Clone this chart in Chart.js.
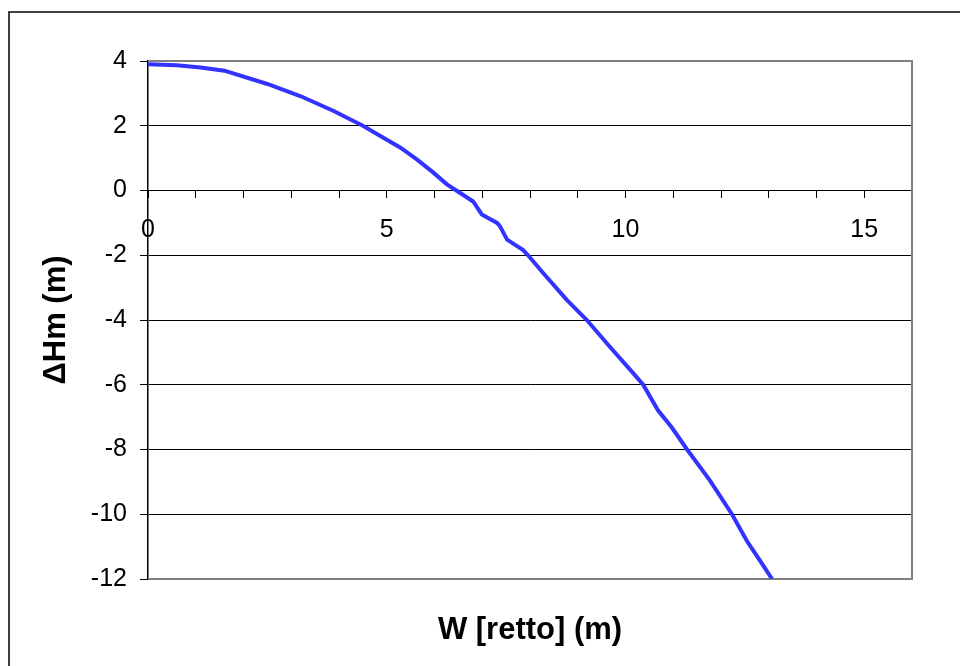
<!DOCTYPE html>
<html>
<head>
<meta charset="utf-8">
<script src="https://cdn.jsdelivr.net/npm/chart.js@4.4.0/dist/chart.umd.min.js"></script>
<style>
html, body { margin:0; padding:0; background:#fff; overflow:hidden; }
</style>
</head>
<body>
<canvas id="grafico" width="960" height="666"></canvas>
<script>
// valori
var wRetto  = [0, 0.6, 1.1, 1.6, 2.5, 3.2, 3.9, 4.23, 4.5, 4.92, 5.28, 5.63, 5.97, 6.26, 6.53, 6.81, 6.99, 7.31, 7.37, 7.52, 7.85, 7.96, 8.27, 8.77, 9.19, 9.68, 10.16, 10.37, 10.68, 10.97, 11.29, 11.77, 12.23, 12.54, 12.82, 13.07];
var deltaHm = [3.9, 3.87, 3.8, 3.7, 3.29, 2.91, 2.45, 2.2, 2.0, 1.64, 1.33, 0.96, 0.56, 0.19, -0.07, -0.34, -0.74, -1.0, -1.1, -1.52, -1.83, -2.0, -2.54, -3.38, -4.0, -4.84, -5.64, -6.0, -6.79, -7.32, -8.0, -8.96, -10.0, -10.82, -11.44, -12.0];
var titoloX = 'W [retto] (m)';
var titoloY = '\u0394Hm (m)';
var xMin = 0, xMax = 16, xPasso = 1, xEtichetta = 5;
var yMin = -12, yMax = 4, yPasso = 2;

var punti = [];
for (var i = 0; i < wRetto.length; i++) {
	punti.push({x: wRetto[i], y: deltaHm[i]});
}

var FONT = '"Liberation Sans", Arial, sans-serif';

var marcoPlugin = {
	id: 'marco',
	beforeDraw: function(chart){
		var ctx = chart.ctx;
		ctx.save();
		ctx.fillStyle = '#fff';
		ctx.fillRect(0, 0, chart.width, chart.height);
		ctx.strokeStyle = '#000';
		ctx.lineWidth = 1.5;
		ctx.beginPath();
		ctx.moveTo(9, chart.height);
		ctx.lineTo(9, 12);
		ctx.lineTo(chart.width, 12);
		ctx.stroke();
		ctx.restore();
	},
	beforeDatasetsDraw: function(chart){
		var a = chart.chartArea, ctx = chart.ctx;
		ctx.save();
		ctx.strokeStyle = '#808080';
		ctx.lineWidth = 2;
		ctx.beginPath();
		ctx.moveTo(a.left, a.top);
		ctx.lineTo(a.right, a.top);
		ctx.lineTo(a.right, a.bottom);
		ctx.lineTo(a.left, a.bottom);
		ctx.stroke();
		ctx.restore();
	},
	afterDraw: function(chart){
		var a = chart.chartArea, ctx = chart.ctx;
		ctx.save();
		ctx.fillStyle = '#000';
		ctx.font = 'bold 31px ' + FONT;
		ctx.textAlign = 'center';
		ctx.textBaseline = 'middle';
		ctx.fillText(titoloX, (a.left + a.right) / 2, 630);
		ctx.translate(56, (a.top + a.bottom) / 2);
		ctx.rotate(-Math.PI / 2);
		ctx.fillText(titoloY, 0, 0);
		ctx.restore();
	}
};

var config = {
	type: 'scatter',
	data: {
		datasets: [{
			data: punti,
			showLine: true,
			borderColor: '#3333ff',
			backgroundColor: '#3333ff',
			borderWidth: 4,
			pointRadius: 0,
			tension: 0
		}]
	},
	options: {
		responsive: false,
		animation: false,
		layout: { padding: { left: 0, top: 61, right: 48, bottom: 87 } },
		plugins: {
			legend: { display: false },
			tooltip: { enabled: false }
		},
		scales: {
			x: {
				type: 'linear',
				min: xMin,
				max: xMax,
				position: { y: 0 },
				grid: {
					drawOnChartArea: false,
					drawTicks: true,
					tickLength: 7,
					color: '#000'
				},
				border: { display: true, color: '#000', width: 1 },
				ticks: {
					stepSize: xPasso,
					autoSkip: false,
					maxRotation: 0,
					padding: 18,
					color: '#000',
					font: { family: FONT, size: 25 },
					callback: function(v){ return v % xEtichetta === 0 ? v : ''; }
				}
			},
			y: {
				type: 'linear',
				min: yMin,
				max: yMax,
				afterFit: function(scale){ scale.width = 148; },
				grid: {
					color: function(c){
						var v = c.tick ? c.tick.value : null;
						return (v === yMax || v === yMin) ? 'rgba(0,0,0,0)' : '#000';
					},
					tickColor: '#000',
					tickLength: 8,
					lineWidth: 1
				},
				border: { display: true, color: '#000', width: 1.5 },
				ticks: {
					stepSize: yPasso,
					padding: 13,
					color: '#000',
					font: { family: FONT, size: 25 }
				}
			}
		}
	},
	plugins: [marcoPlugin]
};

var grafico = new Chart(document.getElementById('grafico').getContext('2d'), config);
</script>
</body>
</html>
